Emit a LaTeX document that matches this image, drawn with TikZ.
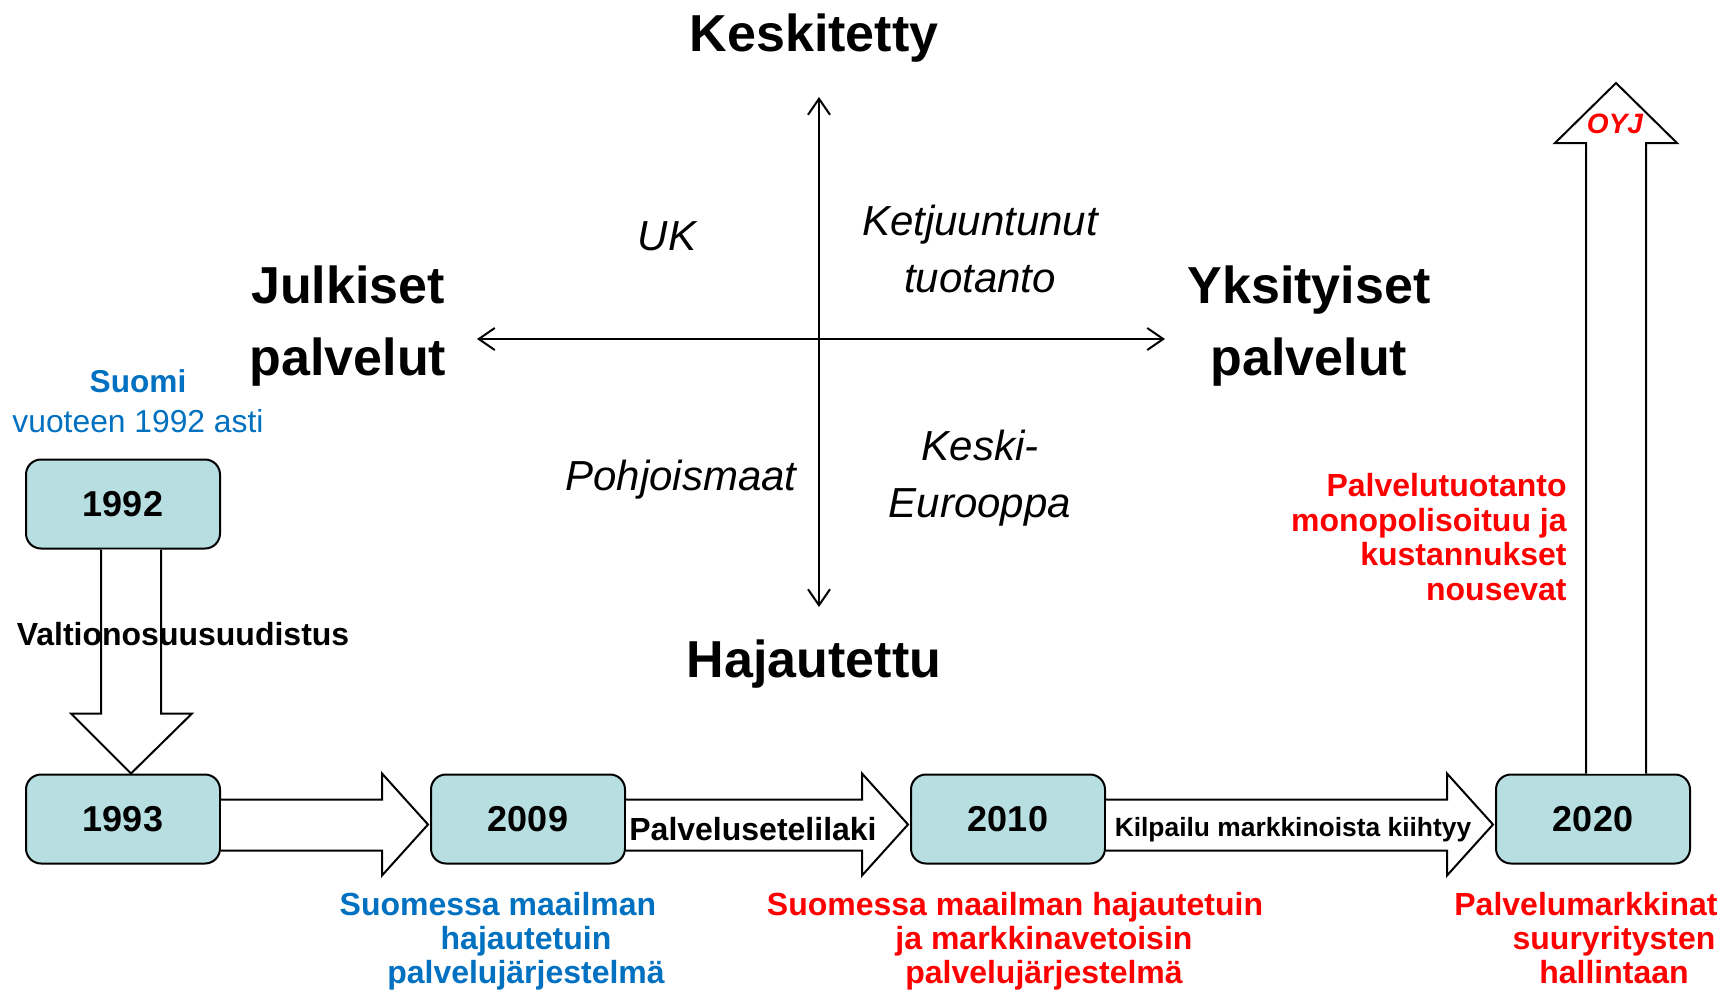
\documentclass[tikz,border=0pt]{standalone}
\usepackage{fontspec}
\setmainfont{Liberation Sans}
\usetikzlibrary{arrows.meta,calc}
\definecolor{boxfill}{HTML}{B7DEE1}
\definecolor{myblue}{HTML}{0070C0}
\definecolor{myred}{HTML}{FF0000}
\newcommand{\blockarrowR}[2]{%
  \draw[blk] ($(#1.east)+(0,-19.5)$) -- ($(#2.west)+(-48,-19.5)$) -- ($(#2.west)+(-48,-45.5)$)
    -- ($(#2.west)+(-2,5.5)$) -- ($(#2.west)+(-48,56.5)$) -- ($(#2.west)+(-48,31.5)$) -- ($(#1.east)+(0,31.5)$);}
\begin{document}
\begin{tikzpicture}[x=0.5pt,y=-0.5pt,
  yearbox/.style={draw=black, line width=1pt, fill=boxfill, rounded corners=7.5pt,
    minimum width=97pt, minimum height=44.5pt, inner sep=0pt,
    font=\fontsize{18pt}{21pt}\selectfont\bfseries},
  blk/.style={draw=black, line width=1pt, fill=white, line join=miter},
  axis/.style={line width=1pt, {Straight Barb[length=8pt,width=11pt]}-{Straight Barb[length=8pt,width=11pt]}},
  big/.style={font=\fontsize{26pt}{36pt}\selectfont\bfseries, align=center, inner sep=0pt},
  ital/.style={font=\fontsize{21pt}{28.5pt}\selectfont\itshape, align=center, inner sep=0pt},
  lbl/.style={font=\fontsize{16pt}{18pt}\selectfont\bfseries, inner sep=0pt},
  note/.style={font=\fontsize{16pt}{17pt}\selectfont\bfseries, inner sep=0pt},
]
\useasboundingbox (0,0) rectangle (1726,992);

% year boxes
\node[yearbox] (b1992) at (123,504) {1992};
\node[yearbox] (b1993) at (123,819) {1993};
\node[yearbox] (b2009) at (528,819) {2009};
\node[yearbox] (b2010) at (1008,819) {2010};
\node[yearbox] (b2020) at (1593,819) {2020};

% block arrows
\draw[blk] ($(b1992.south)+(-22,0)$) -- ($(b1993.north)+(-22,-60)$) -- ($(b1993.north)+(-52,-60)$)
  -- ($(b1993.north)+(8,0)$) -- ($(b1993.north)+(69,-60)$) -- ($(b1993.north)+(38,-60)$) -- ($(b1992.south)+(38,0)$);
\blockarrowR{b1993}{b2009}
\blockarrowR{b2009}{b2010}
\blockarrowR{b2010}{b2020}
\coordinate (oyjtip) at (1616,83);
\draw[blk] ($(b2020.north)+(-7,0)$) -- ($(oyjtip)+(-30,60)$) -- ($(oyjtip)+(-61,60)$) -- (oyjtip)
  -- ($(oyjtip)+(61,60)$) -- ($(oyjtip)+(30,60)$) -- ($(b2020.north)+(53,0)$);
\node[font=\fontsize{14pt}{16pt}\selectfont\bfseries\itshape, text=myred, anchor=base, inner sep=0pt] (oyj) at (1615,133) {OYJ};

% arrow labels
\node[lbl, anchor=base] (valt) at (183,645) {Valtionosuusuudistus};
\node[lbl, anchor=base] (pset) at (753,840) {Palvelusetelilaki};
\node[lbl, anchor=base, font=\fontsize{13.2pt}{16pt}\selectfont\bfseries] (kilp) at (1293,836) {Kilpailu markkinoista kiihtyy};

% axes
\coordinate (vtop) at (819,97);
\coordinate (vbot) at (819,607);
\coordinate (hl) at (477,339);
\coordinate (hr) at (1165,339);
\draw[axis] (vtop) -- (vbot);
\draw[axis] (hl) -- (hr);

% axis labels
\node[big, anchor=base] (kesk) at (814,51) {Keskitetty};
\node[big, anchor=base] (haj) at (814,677) {Hajautettu};
\node[big] (julk) at (348,326) {Julkiset\\palvelut};
\node[big] (yks) at (1309,326) {Yksityiset\\palvelut};

\node[ital, anchor=base] (uk) at (667,250) {UK};
\node[ital] (ketj) at (980,248.5) {Ketjuuntunut\\tuotanto};
\node[ital, anchor=base] (pohj) at (681,490) {Pohjoismaat};
\node[ital] (kesek) at (980,478) {Keski-\\Eurooppa};

% Suomi
\node[font=\fontsize{15.8pt}{18pt}\selectfont\bfseries, text=myblue, anchor=base, inner sep=0pt] (suomi) at (138,392) {Suomi};
\node[font=\fontsize{15.9pt}{18pt}\selectfont, text=myblue, anchor=base, inner sep=0pt] (vuot) at (138,432) {vuoteen 1992 asti};

% notes
\node[note, text=myred, align=right, anchor=east, font=\fontsize{16pt}{17.4pt}\selectfont\bfseries] (mono) at (1567,537)
  {Palvelutuotanto\\monopolisoituu ja\\kustannukset\\nousevat};
\node[note, text=myblue, align=center] (n2009) at (526,941)
  {Suomessa maailman\hspace*{28pt}\\hajautetuin\\palvelujärjestelmä};
\node[note, text=myred, align=center] (n2010) at (1044,941)
  {Suomessa maailman hajautetuin\hspace*{29pt}\\ja markkinavetoisin\\palvelujärjestelmä};
\node[note, text=myred, align=center] (n2020) at (1614,938)
  {Palvelumarkkinat\hspace*{28pt}\\suuryritysten\\hallintaan};
\end{tikzpicture}
\end{document}
